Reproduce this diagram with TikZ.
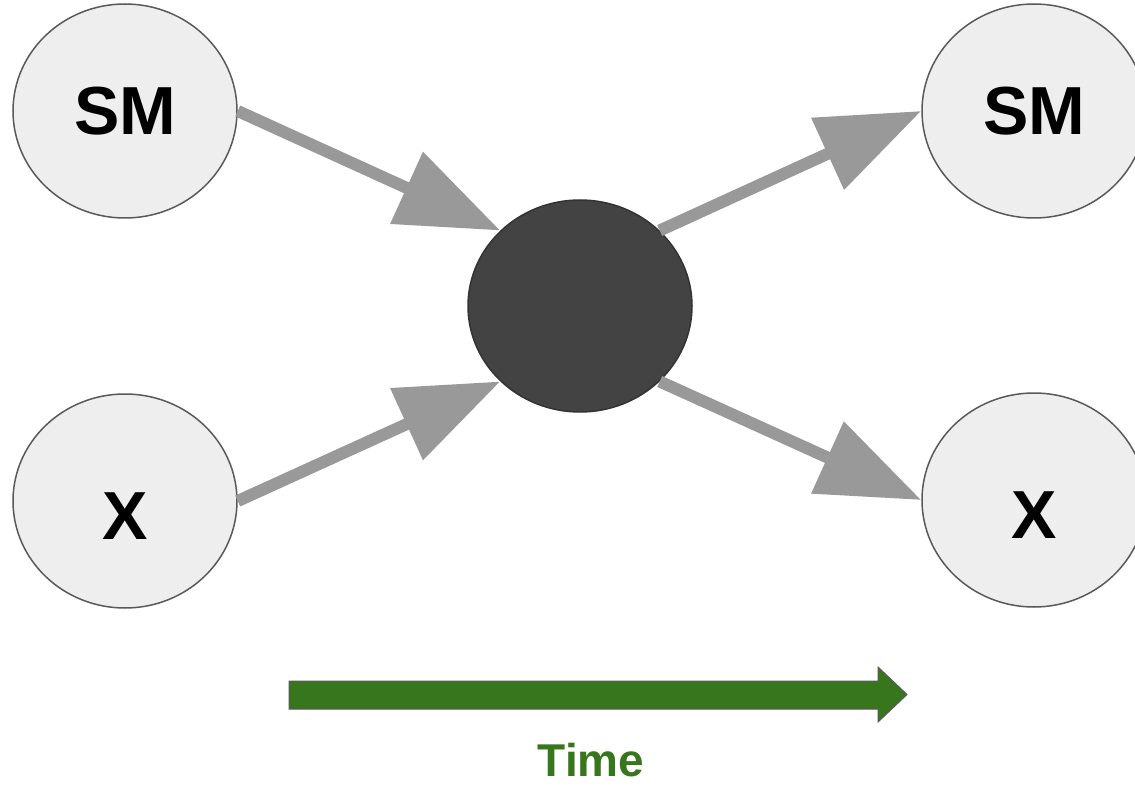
\documentclass[tikz,border=0pt]{standalone}
\usepackage{fontspec}
\setmainfont{Liberation Sans}
\usetikzlibrary{arrows.meta,shapes.geometric}
\definecolor{nodefill}{HTML}{EEEEEE}
\definecolor{nodeline}{HTML}{595959}
\definecolor{corefill}{HTML}{434343}
\definecolor{coreline}{HTML}{333333}
\definecolor{flowgray}{HTML}{999999}
\definecolor{timegreen}{HTML}{38761D}
\tikzset{
  particle/.style={ellipse, draw=nodeline, line width=1.5pt, fill=nodefill,
    minimum width=224pt, minimum height=214pt, inner sep=0pt,
    font=\fontsize{68}{80}\selectfont\bfseries},
  xlabel/.style={text height=77pt, text depth=0pt},
  core/.style={ellipse, draw=coreline, line width=1.5pt, fill=corefill,
    minimum width=224pt, minimum height=212pt, inner sep=0pt},
  flow/.style={draw=flowgray, line width=12pt,
    -{Triangle[length=103pt, width=76pt]}},
}
\begin{document}
\begin{tikzpicture}[x=1pt,y=-1pt]
\useasboundingbox (0,0) rectangle (1135,786);
\clip (0,0) rectangle (1135,786);
\node[particle] (sm1) at (125,111) {SM};
\node[particle, xlabel] (x1) at (125,501) {X};
\node[particle] (sm2) at (1034,111) {SM};
\node[particle, xlabel] (x2) at (1034,500) {X};
\node[core] (c) at (580,306) {};
\draw[flow] (sm1.east) -- (c.north west);
\draw[flow] (x1.east) -- (c.south west);
\draw[flow] (c.north east) -- (sm2.west);
\draw[flow] (c.south east) -- (x2.west);
\draw[fill=timegreen, draw=nodeline, line width=1pt]
  (289,681) -- (878,681) -- (878,667) -- (907,694.5) -- (878,722) -- (878,709) -- (289,709) -- cycle;
\node[text=timegreen, font=\fontsize{46}{54}\selectfont\bfseries] (time) at (591,760) {Time};
\end{tikzpicture}
\end{document}
